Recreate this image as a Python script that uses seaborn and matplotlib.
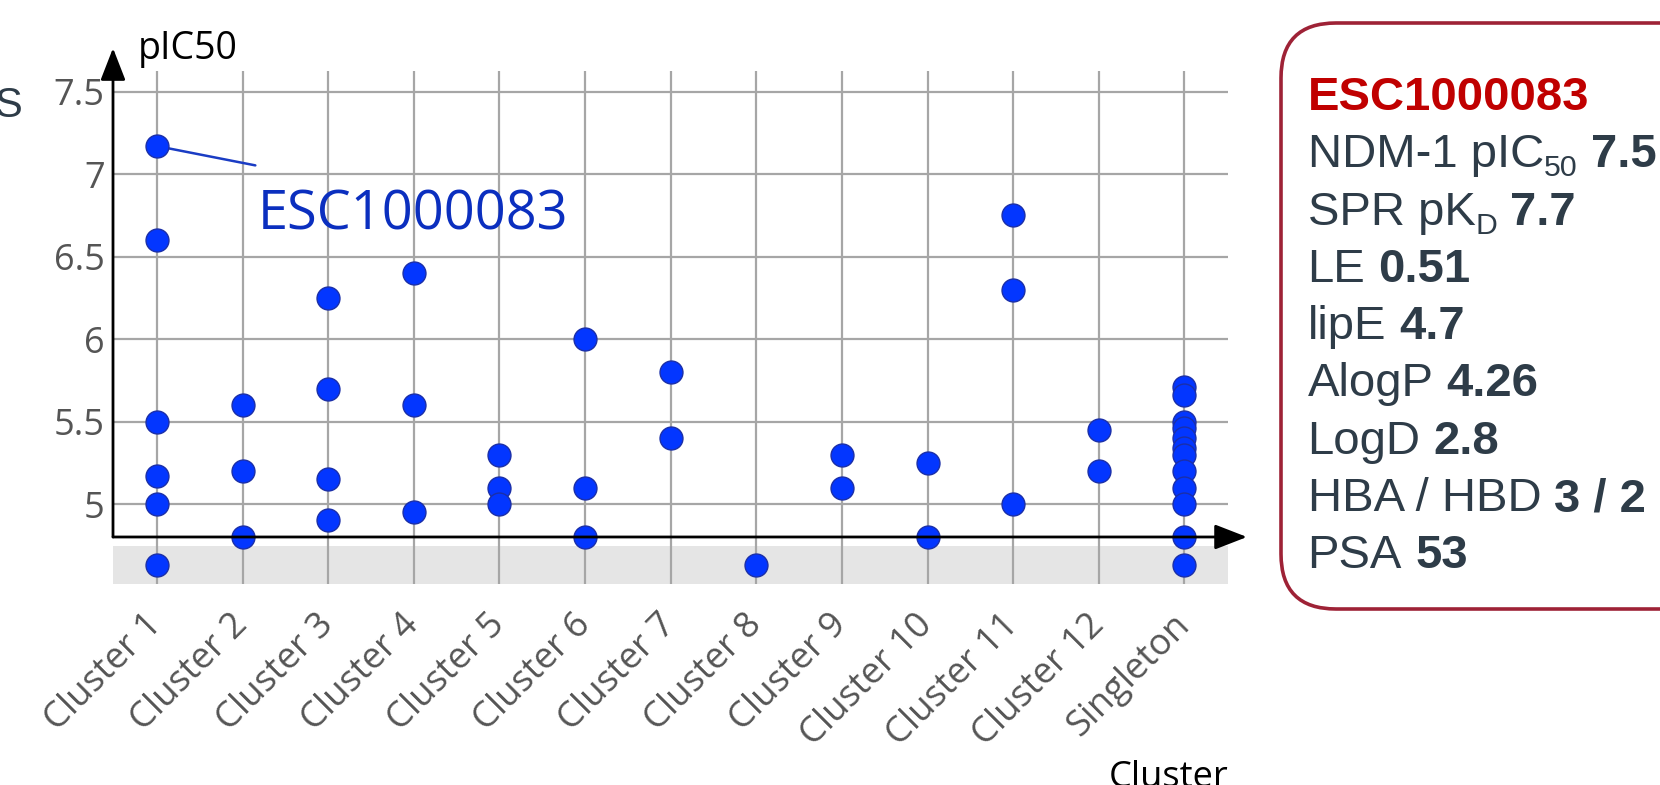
import numpy as np
import pandas as pd
import matplotlib
matplotlib.use("Agg")
import matplotlib.pyplot as plt
from matplotlib.patches import FancyBboxPatch
import seaborn as sns

# ---- data ----
clusters = ["Cluster 1", "Cluster 2", "Cluster 3", "Cluster 4", "Cluster 5", "Cluster 6",
            "Cluster 7", "Cluster 8", "Cluster 9", "Cluster 10", "Cluster 11", "Cluster 12",
            "Singleton"]
c1 = [7.17, 6.60, 5.50, 5.17, 5.00, 4.63]
c2 = [5.60, 5.20, 4.80]
c3 = [6.25, 5.70, 5.15, 4.90]
c4 = [6.40, 5.60, 4.95]
c5 = [5.30, 5.10, 5.00]
c6 = [6.00, 5.10, 4.80]
c7 = [5.80, 5.40]
c8 = [4.63]
c9 = [5.30, 5.10]
c10 = [5.25, 4.80]
c11 = [6.75, 6.30, 5.00]
c12 = [5.45, 5.20]
singleton = [5.71, 5.66, 5.50, 5.46, 5.40, 5.34, 5.30, 5.20, 5.10, 5.00, 4.80, 4.63]
yticks = [5, 5.5, 6, 6.5, 7, 7.5]
ytick_labels = ["5", "5.5", "6", "6.5", "7", "7.5"]
highlight = "ESC1000083"
highlight_value = 7.17
axis_floor = 4.8          # where the x axis is drawn
inactive_band = (4.515, 4.745)

box_title = "ESC1000083"
box_rows = [
    [("NDM-1 pIC", "normal", False), ("50", "normal", True), ("7.5", "bold", False)],
    [("SPR pK", "normal", False), ("D", "normal", True), ("7.7", "bold", False)],
    [("LE", "normal", False), ("0.51", "bold", False)],
    [("lipE", "normal", False), ("4.7", "bold", False)],
    [("AlogP", "normal", False), ("4.26", "bold", False)],
    [("LogD", "normal", False), ("2.8", "bold", False)],
    [("HBA / HBD", "normal", False), ("3 / 2", "bold", False)],
    [("PSA", "normal", False), ("53", "bold", False)],
]

groups = [c1, c2, c3, c4, c5, c6, c7, c8, c9, c10, c11, c12, singleton]
df = pd.DataFrame({
    "Cluster": np.repeat(clusters, [len(g) for g in groups]),
    "pIC50": np.concatenate(groups),
})

sns.set_style("white")
plt.rcParams["font.family"] = ["Open Sans", "DejaVu Sans"]

W, H = 1660, 785
fig = plt.figure(figsize=(W / 100, H / 100), dpi=100)

# overlay in pixel coordinates for the side panel
ov = fig.add_axes([0, 0, 1, 1])
ov.set_xlim(0, W)
ov.set_ylim(H, 0)
ov.set_axis_off()

ax = fig.add_axes([113 / W, 1 - 584 / H, (1228 - 113) / W, (584 - 70.7) / H])

sns.stripplot(data=df, x="Cluster", y="pIC50", order=clusters, jitter=False,
              size=16.5, color="#0336ff", edgecolor="#1b2fa8", linewidth=1,
              ax=ax, zorder=4)

ax.set_xlim(-0.514, 12.51)
ax.set_ylim(inactive_band[0], 7.627)
ax.axhspan(inactive_band[0], inactive_band[1], color="#e5e5e5", lw=0, zorder=0.1)
ax.set_axisbelow(True)
ax.grid(True, color="#a6a6a6", lw=1.6)
for s in ax.spines.values():
    s.set_visible(False)

ax.set_yticks(yticks)
ax.set_yticklabels(ytick_labels)
ax.tick_params(axis="y", length=0, pad=6, labelsize=26, labelcolor="#555555")
ax.tick_params(axis="x", length=0, pad=26, labelsize=26, labelcolor="#555555")
for lab in ax.get_xticklabels():
    lab.set_rotation(45)
    lab.set_ha("right")
    lab.set_va("center")
    lab.set_rotation_mode("anchor")
ax.set_xlabel("")
ax.set_ylabel("")

# axis arrows
arrow = dict(arrowstyle="-|>,head_length=0.9,head_width=0.35", color="black", lw=2,
             shrinkA=0, shrinkB=0, mutation_scale=22)
ax.annotate("", xy=(1.017, axis_floor), xytext=(0, axis_floor),
            xycoords=("axes fraction", "data"), textcoords=("axes fraction", "data"),
            arrowprops=arrow, annotation_clip=False, zorder=5)
ax.annotate("", xy=(0, 1.044), xytext=(0, axis_floor),
            xycoords=("axes fraction", "axes fraction"), textcoords=("axes fraction", "data"),
            arrowprops=arrow, annotation_clip=False, zorder=5)

# callout for the highlighted compound
ax.annotate("", xy=(0, highlight_value), xytext=(70.8, -13.9), textcoords="offset points",
            arrowprops=dict(arrowstyle="-", color="#1a3cc4", lw=1.8, shrinkA=0, shrinkB=0),
            zorder=3)
ax.annotate(highlight, xy=(0, highlight_value), xytext=(72.2, -60), textcoords="offset points",
            ha="left", va="baseline", fontsize=39, color="#0b2fbf", zorder=3)

# axis titles
ov.text(138, 49, "pIC50", fontsize=27, color="black", ha="left", va="center")
ov.text(1228, 787, "Cluster", fontsize=26, color="black", ha="right", va="baseline")
ov.text(22, 106, "S", fontsize=30, color="#2e3c48", ha="right", va="center",
        family="Liberation Sans")

# side panel
ov.add_patch(FancyBboxPatch((1281, 23), 520, 586, boxstyle="round,pad=0,rounding_size=55",
                            fc="white", ec="#9e2236", lw=2.6))
renderer = fig.canvas.get_renderer()
fs = 34
em = fs * 100 / 72
x0, y0, dy = 1307.5, 110, 57.3
ov.text(x0, y0, box_title, fontsize=fs, fontweight="bold", color="#c00000",
        family="Liberation Sans", ha="left", va="baseline")
for i, row in enumerate(box_rows):
    x = x0
    y = y0 + (i + 1) * dy
    for j, (s, w, sub) in enumerate(row):
        if j > 0 and not sub:
            x += 0.278 * em
        t = ov.text(x, y + (9 if sub else 0), s, fontsize=fs * 0.64 if sub else fs,
                    fontweight=w, color="#2e3c48", family="Liberation Sans",
                    ha="left", va="baseline")
        x += t.get_window_extent(renderer=renderer).width

fig.savefig("out.png", dpi=100)
